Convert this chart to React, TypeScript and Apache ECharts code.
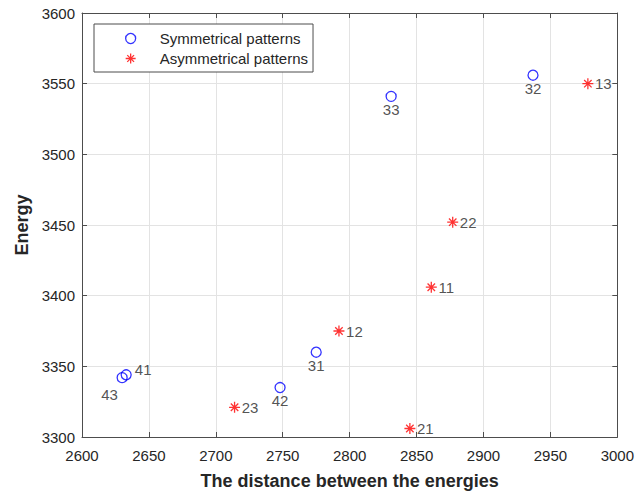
import React, { useEffect, useRef } from "react";
import * as echarts from "echarts";

const symNames = ["33", "32", "31", "42", "43", "41"];
const symX = [2831, 2937, 2775, 2748, 2630, 2633];
const symY = [3541, 3556, 3360, 3335, 3342, 3344];
const symLabelPos = ["bottom", "bottom", "bottom", "bottom", "bottomLeft", "right"];

const asymNames = ["13", "22", "11", "12", "23", "21"];
const asymX = [2978, 2877, 2861, 2792, 2714, 2845];
const asymY = [3550, 3452, 3406, 3375, 3321, 3306];

const xTicks = { min: 2600, max: 3000, interval: 50 };
const yTicks = { min: 3300, max: 3600, interval: 50 };

const STAR = "path://M5,0 L5,10 M0,5 L10,5 M1.6,1.6 L8.4,8.4 M1.6,8.4 L8.4,1.6";
const FONT = "Liberation Sans, Arial, Helvetica, sans-serif";
const TXT = "#262626";
const AXIS = "#4d4d4d";
const GRID = "#e3e3e3";

export default function App() {
  const ref = useRef<HTMLDivElement>(null);
  useEffect(() => {
    document.body.style.margin = "0";
    const chart = echarts.init(ref.current!, null, { renderer: "svg" });
    const labelFor = (p: string) => {
      if (p === "bottomLeft") return { position: [-7, 23], align: "center", verticalAlign: "middle" };
      if (p === "right") return { position: "right", distance: 3, offset: [0, -5] };
      return { position: "bottom", distance: 0 };
    };
    const symData = symNames.map((n, i) => ({
      name: n,
      value: [symX[i], symY[i]],
      label: labelFor(symLabelPos[i]),
    }));
    const asymData = asymNames.map((n, i) => ({ name: n, value: [asymX[i], asymY[i]] }));
    const baseAxis = {
      axisLine: { show: true, onZero: false, lineStyle: { color: AXIS, width: 1 } },
      axisTick: { show: true, inside: true, length: 5, lineStyle: { color: AXIS } },
    };
    const circleStyle = { color: "rgba(0,0,0,0)", borderColor: "#0000ff", borderWidth: 1.3 };
    const starStyle = { color: "rgba(0,0,0,0)", borderColor: "#ff0000", borderWidth: 1.3 };
    chart.setOption({
      animation: false,
      textStyle: { fontFamily: FONT },
      grid: { left: 82, right: 16, top: 13, bottom: 57, containLabel: false },
      legend: {
        orient: "vertical",
        left: 94,
        top: 24,
        borderColor: AXIS,
        borderWidth: 1,
        backgroundColor: "#fff",
        padding: [7, 5, 6, 31],
        itemGap: 5,
        itemWidth: 16,
        itemHeight: 10,
        textStyle: { fontFamily: FONT, fontSize: 15, color: TXT, padding: [0, 0, 0, 16] },
        data: [
          { name: "Symmetrical patterns", icon: "circle", itemStyle: circleStyle },
          { name: "Asymmetrical patterns", icon: STAR, itemStyle: starStyle },
        ],
      },
      xAxis: [
        {
          type: "value",
          ...xTicks,
          ...baseAxis,
          position: "bottom",
          name: "The distance between the energies",
          nameLocation: "middle",
          nameGap: 35,
          nameTextStyle: { fontFamily: FONT, fontSize: 18, fontWeight: "bold", color: TXT },
          axisLabel: { fontSize: 15, color: TXT, margin: 11, formatter: (v: number) => String(v) },
          splitLine: { show: true, lineStyle: { color: GRID, width: 1 } },
        },
        {
          type: "value",
          ...xTicks,
          ...baseAxis,
          position: "top",
          axisLabel: { show: false },
          splitLine: { show: false },
        },
      ],
      yAxis: [
        {
          type: "value",
          ...yTicks,
          ...baseAxis,
          position: "left",
          name: "Energy",
          nameLocation: "middle",
          nameGap: 50,
          nameTextStyle: { fontFamily: FONT, fontSize: 18, fontWeight: "bold", color: TXT },
          axisLabel: { fontSize: 15, color: TXT, margin: 7, formatter: (v: number) => String(v) },
          splitLine: { show: true, lineStyle: { color: GRID, width: 1 } },
        },
        {
          type: "value",
          ...yTicks,
          ...baseAxis,
          position: "right",
          axisLabel: { show: false },
          splitLine: { show: false },
        },
      ],
      series: [
        {
          name: "Symmetrical patterns",
          type: "scatter",
          xAxisIndex: 0,
          yAxisIndex: 0,
          symbol: "circle",
          symbolSize: 10,
          itemStyle: circleStyle,
          label: { show: true, formatter: "{b}", fontSize: 15, color: TXT, fontFamily: FONT },
          data: symData,
        },
        {
          name: "Asymmetrical patterns",
          type: "scatter",
          xAxisIndex: 0,
          yAxisIndex: 0,
          symbol: STAR,
          symbolSize: 11,
          itemStyle: starStyle,
          label: { show: true, formatter: "{b}", position: "right", distance: 1, fontSize: 15, color: TXT, fontFamily: FONT },
          data: asymData,
        },
      ],
    });
    return () => chart.dispose();
  }, []);
  return <div ref={ref} style={{ width: 637, height: 495 }} />;
}
